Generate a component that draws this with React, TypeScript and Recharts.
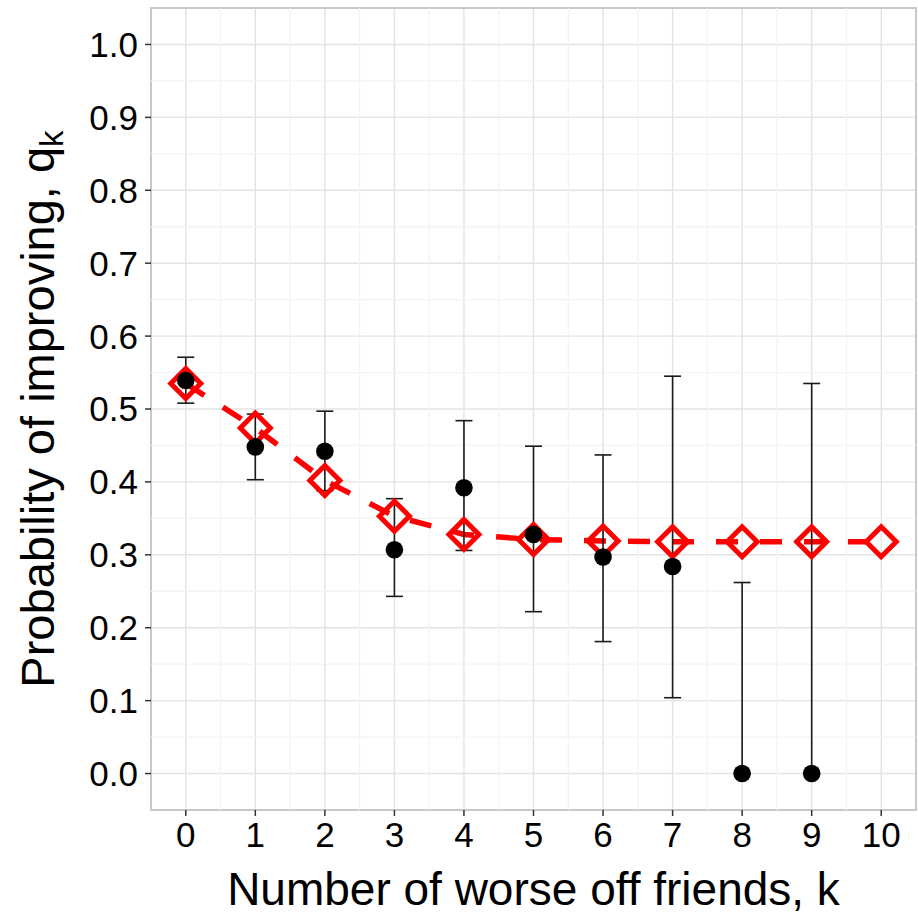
import React from 'react';
import {
  ComposedChart,
  XAxis,
  YAxis,
  CartesianGrid,
  Line,
  Scatter,
  ErrorBar,
  ReferenceLine,
  ReferenceArea,
  Label,
} from 'recharts';

// number of worse-off friends
const ks = [0, 1, 2, 3, 4, 5, 6, 7, 8, 9, 10];

// observed fraction improving, with interval bounds (k = 0..9)
const observed = [0.539, 0.448, 0.442, 0.307, 0.392, 0.328, 0.297, 0.284, 0.0, 0.0];
const lower = [0.508, 0.403, 0.388, 0.243, 0.306, 0.222, 0.181, 0.104, 0.0, 0.0];
const upper = [0.571, 0.493, 0.497, 0.377, 0.484, 0.449, 0.437, 0.545, 0.262, 0.535];

// fitted model q_k (k = 0..10)
const model = [0.535, 0.474, 0.402, 0.353, 0.328, 0.321, 0.319, 0.318, 0.318, 0.318, 0.318];

const xTicks = [0, 1, 2, 3, 4, 5, 6, 7, 8, 9, 10];
const yTicks = [0, 0.1, 0.2, 0.3, 0.4, 0.5, 0.6, 0.7, 0.8, 0.9, 1.0];
const xMinor = [0.5, 1.5, 2.5, 3.5, 4.5, 5.5, 6.5, 7.5, 8.5, 9.5];
const yMinor = [0.05, 0.15, 0.25, 0.35, 0.45, 0.55, 0.65, 0.75, 0.85, 0.95];

const obsData = observed.map((p, i) => ({
  k: ks[i],
  p,
  err: [p - lower[i], upper[i] - p],
}));

const modelData = model.map((q, i) => ({ k: ks[i], q }));

const FONT = '"Liberation Sans", Arial, Helvetica, sans-serif';

// plot panel box in page pixels
const PANEL = { left: 151, right: 916, top: 8, bottom: 810 };

const Diamond = (props: any) => {
  const { cx, cy, index } = props;
  if (cx == null || cy == null) return <g key={`d-${index}`} />;
  const h = 15;
  return (
    <path
      key={`d-${index}`}
      d={`M${cx},${cy - h} L${cx + h},${cy} L${cx},${cy + h} L${cx - h},${cy} Z`}
      fill="none"
      stroke="#ff0000"
      strokeWidth={5}
      strokeLinejoin="miter"
    />
  );
};

const Dot = (props: any) => {
  const { cx, cy } = props;
  return <circle cx={cx} cy={cy} r={8.8} fill="#000" />;
};

const XTitle = () => (
  <text
    x={(PANEL.left + PANEL.right) / 2}
    y={905}
    textAnchor="middle"
    fontSize={46}
    fontFamily={FONT}
    fill="#000"
  >
    Number of worse off friends, k
  </text>
);

const YTitle = () => {
  const cy = (PANEL.top + PANEL.bottom) / 2;
  const bx = 54;
  return (
    <text
      transform={`rotate(-90, ${bx}, ${cy})`}
      x={bx}
      y={cy}
      textAnchor="middle"
      fontSize={47}
      fontFamily={FONT}
      fill="#000"
    >
      Probability of improving, q
      <tspan fontSize={33} dy={9}>k</tspan>
    </text>
  );
};

export default function App() {
  return (
    <div style={{ position: 'absolute', left: 0, top: 0, background: '#fff' }}>
      <ComposedChart width={918} height={915} margin={{ top: 8, right: 2, bottom: 0, left: 0 }}>
        <XAxis
          type="number"
          dataKey="k"
          domain={[-0.5, 10.5]}
          allowDataOverflow
          ticks={xTicks}
          axisLine={false}
          tickLine={{ stroke: '#333', strokeWidth: 1.5 }}
          tickSize={6}
          tickMargin={6}
          height={105}
          tick={{ fill: '#000', fontSize: 35, fontFamily: FONT }}
        >
          <Label content={XTitle} />
        </XAxis>
        <YAxis
          type="number"
          domain={[-0.05, 1.05]}
          allowDataOverflow
          ticks={yTicks}
          tickFormatter={(v: number) => v.toFixed(1)}
          axisLine={false}
          tickLine={{ stroke: '#333', strokeWidth: 1.5 }}
          tickSize={6}
          tickMargin={7}
          width={151}
          tick={{ fill: '#000', fontSize: 35, fontFamily: FONT }}
        >
          <Label content={YTitle} />
        </YAxis>

        {xMinor.map((v) => (
          <ReferenceLine key={`xm-${v}`} x={v} stroke="#f3f3f3" strokeWidth={1.3} />
        ))}
        {yMinor.map((v) => (
          <ReferenceLine key={`ym-${v}`} y={v} stroke="#f3f3f3" strokeWidth={1.3} />
        ))}
        <CartesianGrid stroke="#e3e3e3" strokeWidth={1.4} />
        <ReferenceArea
          x1={-0.5}
          x2={10.5}
          y1={-0.05}
          y2={1.05}
          fill="none"
          stroke="#c8c8c8"
          strokeWidth={2}
        />

        <Line
          data={modelData}
          dataKey="q"
          type="linear"
          stroke="#ff0000"
          strokeWidth={5.5}
          strokeDasharray="22 22"
          dot={Diamond}
          activeDot={false}
          isAnimationActive={false}
        />
        <Scatter data={obsData} dataKey="p" shape={Dot} isAnimationActive={false}>
          <ErrorBar dataKey="err" direction="y" width={8.5} stroke="#1a1a1a" strokeWidth={1.6} />
        </Scatter>
      </ComposedChart>
    </div>
  );
}
